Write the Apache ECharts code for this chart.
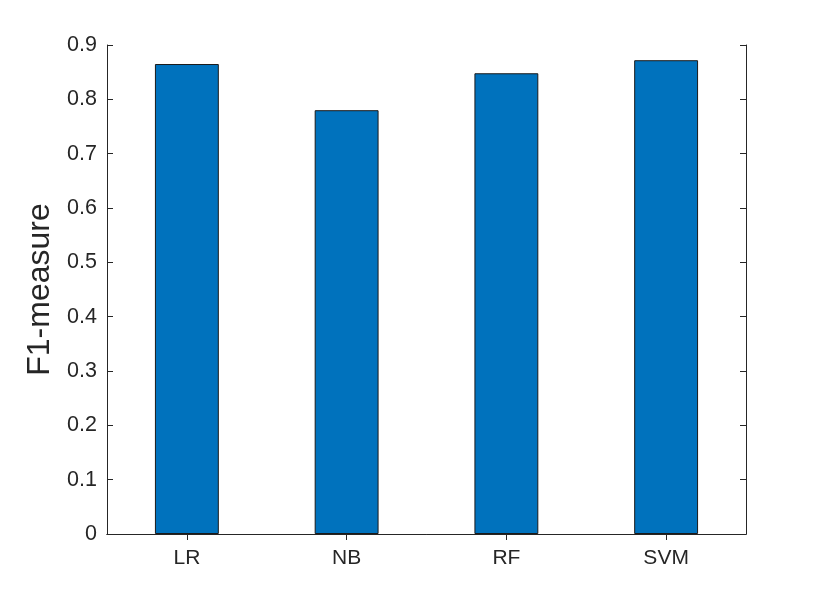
<!DOCTYPE html>
<html>
<head>
<meta charset="utf-8">
<script src="https://cdn.jsdelivr.net/npm/echarts@6/dist/echarts.min.js"></script>
<style>html,body{margin:0;padding:0;background:#fff;}#c{width:825px;height:600px;}</style>
</head>
<body>
<div id="c"></div>
<script>
const categories = ['LR', 'NB', 'RF', 'SVM'];
const f1Values = [0.865, 0.780, 0.848, 0.872];
const yTicks = [0, 0.1, 0.2, 0.3, 0.4, 0.5, 0.6, 0.7, 0.8, 0.9];

const chart = echarts.init(document.getElementById('c'), null, {renderer: 'canvas'});
const txt = '#262626';
const font = 'Arial, "Liberation Sans", sans-serif';
const lineStyle = {color: '#262626', width: 1};
chart.setOption({
  animation: false,
  backgroundColor: '#fff',
  grid: {left: 107, right: 79, top: 45, bottom: 66, containLabel: false},
  xAxis: [{
    type: 'category', data: categories, position: 'bottom',
    axisLine: {show: true, lineStyle: lineStyle},
    axisTick: {show: true, inside: true, alignWithLabel: true, length: 6, lineStyle: lineStyle},
    axisLabel: {color: txt, fontSize: 21, fontFamily: font, margin: 14},
    splitLine: {show: false}
  }, {
    type: 'category', data: categories, position: 'top',
    axisLine: {show: true, lineStyle: lineStyle},
    axisTick: {show: true, inside: true, alignWithLabel: true, length: 6, lineStyle: lineStyle},
    axisLabel: {show: false}, splitLine: {show: false}
  }],
  yAxis: [{
    type: 'value', min: 0, max: 0.9, interval: 0.1, position: 'left',
    name: 'F1-measure', nameLocation: 'middle', nameGap: 49,
    nameTextStyle: {color: txt, fontSize: 32, fontFamily: font},
    axisLine: {show: true, lineStyle: lineStyle},
    axisTick: {show: true, inside: true, length: 6, lineStyle: lineStyle},
    axisLabel: {color: txt, fontSize: 21.5, fontFamily: font, margin: 10,
      formatter: v => { const t = yTicks.find(x => Math.abs(x - v) < 1e-9); return t === 0 ? '0' : String(+(t ?? v).toFixed(1)); }},
    splitLine: {show: false}
  }, {
    type: 'value', min: 0, max: 0.9, interval: 0.1, position: 'right',
    axisLine: {show: true, lineStyle: lineStyle},
    axisTick: {show: true, inside: true, length: 6, lineStyle: lineStyle},
    axisLabel: {show: false}, splitLine: {show: false}
  }],
  series: [{
    type: 'bar', data: f1Values, barWidth: '40%',
    itemStyle: {color: '#0072BD', borderColor: '#1a1a1a', borderWidth: 1}
  }]
});
</script>
</body>
</html>
